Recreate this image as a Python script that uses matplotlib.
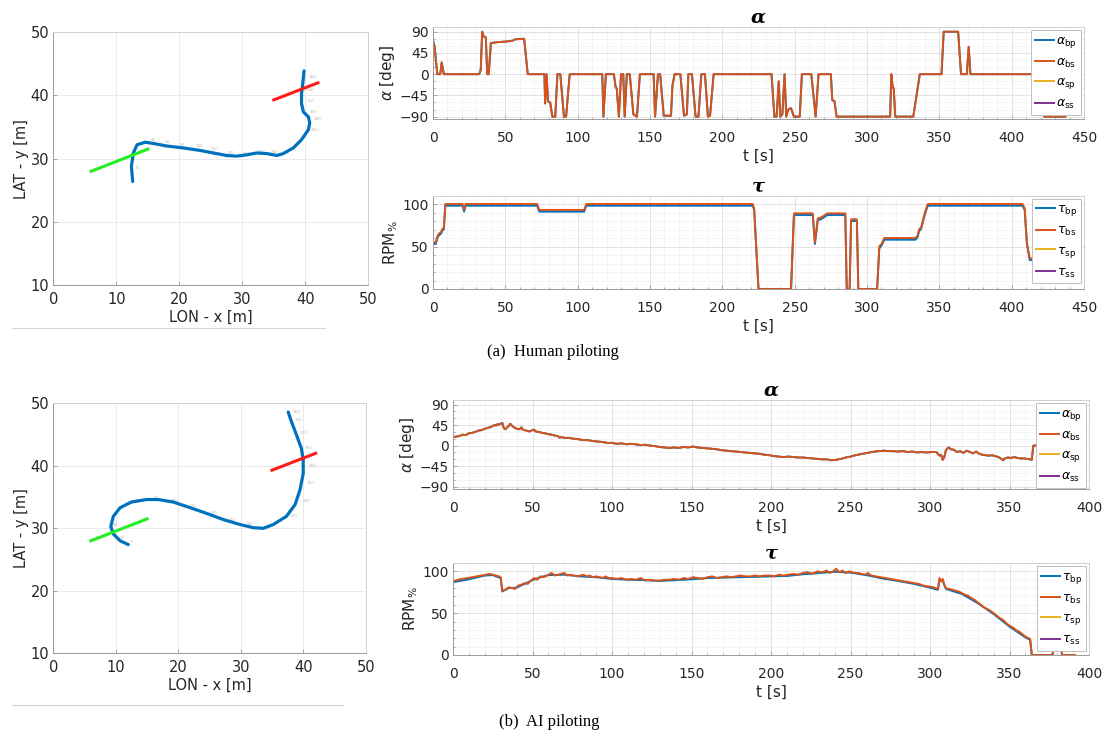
import matplotlib
matplotlib.use('Agg')
import matplotlib.pyplot as plt
from matplotlib.lines import Line2D
from matplotlib.ticker import MultipleLocator

W, H = 1106, 736

BLUE = '#0072BD'
ORANGE = '#D95319'
YELLOW = '#EDB120'
PURPLE = '#7E2F8E'

# gate lines (same in both runs)
start_x = [6, 15]
start_y = [28, 31.5]
goal_x = [35, 42]
goal_y = [39.3, 42]

# (a) human piloting - track
hum_x = [12.6, 12.4, 12.7, 13.3, 14.6, 15.9, 18.0, 20.6, 23.3, 25.4, 27.5, 29.1, 30.7,
         32.3, 33.9, 35.5, 36.5, 38.1, 39.4, 40.5, 40.7, 40.5, 39.7, 39.4, 39.4, 39.6, 39.8]
hum_y = [26.4, 28.8, 30.9, 32.2, 32.6, 32.4, 32.0, 31.7, 31.3, 30.9, 30.5, 30.4, 30.6,
         30.9, 30.8, 30.5, 30.8, 31.7, 33.0, 34.6, 35.7, 36.6, 37.4, 38.7, 40.3, 41.9, 43.9]
hum_mark_x = [13.0, 15.5, 17.7, 20.1, 22.6, 24.9, 27.5, 30.1, 32.3, 34.5, 36.3,
              40.9, 41.3, 40.7, 40.3, 40.3, 40.6]
hum_mark_y = [28.5, 33.0, 32.6, 32.2, 32.0, 31.5, 30.9, 30.8, 31.1, 31.0, 30.9,
              34.6, 36.2, 37.4, 39.1, 40.9, 43.0]
hum_marks = ['20', '40', '60', '80', '100', '120', '140', '160', '180', '200', '220',
             '260', '280', '300', '320', '340', '360']

# (b) AI piloting - track
ai_x = [12.0, 10.7, 9.6, 9.2, 9.6, 10.7, 12.5, 14.9, 16.8, 19.2, 21.9, 24.5, 27.2,
        29.9, 32.0, 33.6, 35.2, 37.3, 38.7, 39.5, 40.0, 40.0, 39.7, 38.9, 38.1, 37.6]
ai_y = [27.4, 28.0, 29.1, 30.3, 31.9, 33.3, 34.2, 34.6, 34.6, 34.2, 33.3, 32.4, 31.4,
        30.6, 30.1, 30.0, 30.6, 31.9, 33.8, 36.2, 38.8, 41.0, 42.8, 45.0, 47.1, 48.6]
ai_mark_x = [12.3, 10.7, 9.6, 13.1, 16.1, 18.8, 21.6, 25.0, 28.0, 31.0, 34.1, 37.8,
             39.9, 40.6, 40.8, 40.3, 39.4, 38.7, 38.3]
ai_mark_y = [27.8, 28.5, 30.5, 34.4, 34.8, 34.4, 33.5, 32.4, 31.3, 30.7, 30.4, 31.9,
             34.3, 37.3, 40.0, 42.8, 45.3, 47.3, 48.6]
ai_marks = ['0', '20', '40', '60', '80', '100', '120', '140', '160', '180', '200', '220',
            '240', '260', '280', '300', '320', '340', '360']

# (a) human piloting - thruster angle
hum_alpha_t = [0, 1, 3, 5, 6, 7.5, 32, 33, 34, 35, 36.5, 37.5, 38.5, 40, 45, 50, 55, 57, 63, 65.5,
               77, 77.5, 78.5, 79.5, 81, 82.5, 84.5, 86, 88, 90.5, 92, 94.5, 117, 117.8, 119.5,
               125, 126.3, 127, 128.5, 130, 131.5, 132.5, 134, 136, 138.5, 141, 143, 152.5, 153.5, 155.5,
               157, 159.5, 164.5, 165.5, 167, 171, 173.5, 175.5, 176.5, 179, 181.5, 183.5, 185.5, 188, 190, 191.5, 194,
               234, 236, 237.5, 239, 240, 241.5, 243, 244.2, 245.5, 247.5, 249.5, 253.5, 255, 261.5, 264.5, 266.5,
               275, 276, 277.5, 279, 316, 316.8, 317.8, 318.5, 319.5, 332, 336.5, 351.5, 353, 363, 365, 369, 370.3, 371.5,
               420.5, 422.5, 437]
hum_alpha_bs = [72, 60, 0, 0, 25, 0, 0, 10, 90, 80, 78, 0, 0, 66, 68, 69, 71, 74, 75, 0,
                0, -62, 0, -58, -60, -90, -90, 0, 0, -90, -90, 0, 0, -90, 0,
                0, -28, -30, -90, 0, 0, -90, 0, 0, -85, -90, 0, 0, -90, 0,
                0, -88, -88, -25, 0, 0, -88, -85, 0, 0, -90, -90, 0, 0, -90, -88, 0,
                0, -90, -90, -15, -90, -85, 0, -90, -75, -72, -90, -90, 0, 0, -90, 0,
                0, -55, -57, -90, -90, 0, -28, -30, -90, -90, 0, 0, 90, 90, 0, 0, 58, 0,
                0, -90, -90]
hum_alpha_bp = hum_alpha_bs  # both bow thrusters at the same angle

# (a) human piloting - thrust
hum_tau_t = [0.5, 2, 3, 4, 5.5, 6.5, 7.5, 8.5, 20.5, 21.5, 22.5, 72, 73.5, 104.5, 106, 221, 222, 225,
             247.5, 249.5, 262.5, 264, 266, 268, 270, 272.5, 285, 286, 288, 289, 293, 294, 307,
             308.5, 310, 312, 333.5, 335, 336, 337.5, 340, 342, 407.5, 409, 410.5, 412.5, 421]
hum_tau_bs = [55, 55, 62, 65, 67, 71, 72, 100, 100, 93, 100, 100, 93, 93, 100, 100, 95, 0,
              0, 89, 89, 55, 83, 84, 86, 89, 89, 0, 0, 82, 82, 0, 0,
              50, 53, 60, 60, 63, 70, 73, 90, 100, 100, 95, 55, 36, 36]
hum_tau_bp = [53, 53, 60, 63, 65, 69, 70, 98, 98, 91, 98, 98, 91, 91, 98, 98, 93, 0,
              0, 87, 87, 53, 81, 82, 84, 87, 87, 0, 0, 80, 80, 0, 0,
              48, 51, 58, 58, 61, 68, 71, 88, 98, 98, 93, 53, 34, 34]

# (b) AI piloting - thruster angle
ai_alpha_t = [0, 2, 4, 6, 8, 10, 12, 14, 16, 18, 20, 22, 24, 26, 27, 28, 29, 30, 31, 32,
              33, 34, 35, 36, 37, 38, 40, 42, 43, 44, 46, 48, 50, 51, 52, 54, 56, 58, 60, 62,
              64, 66, 67, 68, 70, 73, 76, 79, 82, 85, 88, 91, 94, 97, 100,
              103, 106, 109, 112, 115, 118, 121, 124, 127, 130, 133, 136, 139, 142, 145, 148, 151, 154, 157, 160,
              163, 166, 169, 172, 175, 178, 181, 184, 187, 190, 193, 196, 199, 202, 205, 208, 211, 214, 217, 220,
              223, 226, 229, 232, 235, 238, 241, 244, 247, 250, 253, 256, 259, 262, 265, 268, 271, 274, 277, 280,
              283, 286, 289, 292, 295, 298, 301, 304,
              306, 307, 308, 309, 310, 311, 312, 313, 315, 317, 319, 321, 323, 325, 327, 329, 331, 333, 335, 337,
              339, 341, 343, 345, 346, 347, 349, 351, 353, 355, 357, 359, 361, 363, 364, 365, 374]
ai_alpha_bs = [18, 20, 21, 24, 23, 27, 28, 30, 33, 34, 37, 39, 41, 45, 44, 47, 46, 48, 50, 38,
               36, 40, 43, 48, 44, 41, 37, 36, 40, 35, 33, 31, 34, 35, 31, 30, 28, 27, 25, 24,
               22, 21, 17, 19, 17, 17, 15, 14, 12, 12, 10, 9, 8, 6, 6,
               4, 5, 3, 4, 3, 1, 2, 0, -1, -3, -4, -5, -4, -5, -3, -4, -2, -4, -5, -6,
               -7, -8, -10, -11, -12, -13, -14, -15, -16, -17, -18, -20, -21, -23, -24, -25, -24, -25, -26, -26,
               -27, -28, -29, -30, -30, -32, -31, -29, -26, -24, -21, -19, -17, -15, -13, -12, -11, -12, -12, -13,
               -12, -14, -13, -15, -14, -15, -14, -14,
               -22, -20, -31, -25, -10, -6, -4, -8, -9, -14, -12, -16, -11, -14, -17, -13, -18, -20, -21, -22,
               -21, -23, -25, -29, -32, -28, -26, -27, -25, -27, -28, -28, -29, -30, -31, 0, 0]
ai_alpha_bp = ai_alpha_bs

# (b) AI piloting - thrust
ai_tau_t = [0, 3, 6, 9, 12, 15, 18, 21, 23, 25, 27, 29, 30, 31, 33, 35, 37, 39, 41, 43,
            45, 47, 49, 51, 53, 55, 57, 59, 61, 62, 64, 66, 68, 70, 72, 74, 76, 78, 80, 82,
            84, 86, 88, 90, 92, 94, 96, 98, 100, 103, 106, 109, 112, 115, 118, 121, 124, 127, 130, 133,
            136, 139, 142, 145, 148, 151, 154, 157, 160, 163, 166, 169, 172, 175, 178, 181, 184, 187, 190, 193,
            196, 199, 202, 205, 208, 211, 214, 217, 220, 223, 226, 229, 232, 235, 237, 239, 241, 243, 245, 247,
            249, 251, 253, 255, 257, 259, 261, 263, 266, 269, 272, 275, 278, 281, 284, 287, 290, 293, 296, 299,
            302, 305, 306, 307, 308, 309, 310, 312, 314, 316, 318, 320, 322, 324, 326, 328, 330, 332, 334, 336,
            338, 340, 342, 344, 346, 348, 350, 352, 354, 356, 358, 360, 362, 363, 364, 377, 379, 382, 383, 391]
ai_tau_bs = [88, 90, 91, 92, 93, 94, 95, 96, 97, 96, 95, 94, 93, 77, 78, 81, 80, 79, 83, 84,
             86, 85, 89, 92, 90, 94, 93, 95, 97, 98, 95, 96, 97, 98, 95, 96, 95, 94, 95, 96,
             94, 95, 93, 94, 93, 92, 94, 92, 92, 91, 92, 90, 91, 90, 92, 89, 90, 89, 89, 90,
             90, 91, 90, 92, 91, 93, 92, 91, 93, 94, 92, 93, 94, 93, 94, 95, 94, 94, 95, 94,
             95, 95, 94, 96, 95, 96, 97, 96, 98, 99, 97, 100, 99, 101, 98, 100, 103, 99, 101, 98,
             100, 99, 98, 98, 97, 96, 98, 95, 94, 93, 92, 91, 90, 89, 88, 87, 86, 85, 83, 82,
             81, 79, 92, 88, 91, 84, 80, 79, 78, 77, 76, 74, 72, 71, 68, 66, 63, 60, 57, 55,
             53, 50, 47, 44, 42, 38, 35, 33, 30, 28, 25, 22, 20, 19, 0, 0, 25, 25, 0, 0]
ai_tau_bp_t = [0, 10, 20, 25, 30, 31, 35, 40, 45, 50, 55, 60, 70, 80, 90, 100, 110, 120, 130, 140,
               150, 160, 170, 180, 190, 200, 210, 220, 230, 240, 250, 260, 270, 280, 290, 300, 305, 306, 308, 310,
               320, 330, 340, 350, 360, 363, 364, 377, 379, 382, 383, 391]
ai_tau_bp = [87, 90.5, 95, 95.5, 92, 76, 80, 80.5, 85, 89.5, 93, 95.5, 96, 94, 93, 91, 90, 89.5, 88.5, 89.5,
             90.5, 92, 92.5, 93, 93.5, 94, 94.5, 96.5, 98, 99.5, 98.5, 95.5, 91.5, 88.5, 85, 80.5, 78, 90.5, 88.5, 79,
             73, 62, 49, 34, 21, 18, 0, 0, 23.5, 23.5, 0, 0]

tick_ticks = [0, 10, 20, 30, 40, 50]
alpha_ticks = [-90, -45, 0, 45, 90]
tau_ticks = [0, 50, 100]


def main():
    plt.rcParams['font.family'] = 'DejaVu Sans'
    fig = plt.figure(figsize=(W / 100, H / 100), dpi=100)

    ax = fig.add_axes(pos(53.3, 32.3, 368.3, 285))
    crt_track(ax, hum_x, hum_y, hum_mark_x, hum_mark_y, hum_marks)
    ax = fig.add_axes(pos(53.3, 403.3, 365.7, 653.3))
    crt_track(ax, ai_x, ai_y, ai_mark_x, ai_mark_y, ai_marks)

    ax = fig.add_axes(pos(433, 27, 1084, 119))
    crt_alpha(ax, [(hum_alpha_t, hum_alpha_bp), (hum_alpha_t, hum_alpha_bs)], 450)
    ax = fig.add_axes(pos(433, 195.5, 1084, 289))
    crt_tau(ax, [(hum_tau_t, hum_tau_bp), (hum_tau_t, hum_tau_bs)], 450)

    ax = fig.add_axes(pos(453, 400, 1089, 489))
    crt_alpha(ax, [(ai_alpha_t, ai_alpha_bp), (ai_alpha_t, ai_alpha_bs)], 400)
    ax = fig.add_axes(pos(453, 563, 1089, 655))
    crt_tau(ax, [(ai_tau_bp_t, ai_tau_bp), (ai_tau_t, ai_tau_bs)], 400)

    fig.text(0.5, 1 - 352 / H, '(a)  Human piloting', family='Liberation Serif', size=12,
             ha='center', va='center')
    fig.text(0.497, 1 - 722 / H, '(b)  AI piloting', family='Liberation Serif', size=12,
             ha='center', va='center')
    for y, x1 in [(328, 325), (705, 343)]:
        fig.add_artist(Line2D([12 / W, x1 / W], [1 - y / H, 1 - y / H],
                              transform=fig.transFigure, color='#d4d4d4', lw=0.8))

    fig.savefig('out.png', dpi=100)


def pos(left, top, right, bottom):
    return [left / W, 1 - bottom / H, (right - left) / W, (bottom - top) / H]


def frame(ax):
    for side in ['left', 'bottom']:
        ax.spines[side].set_color('#9a9a9a')
    for side in ['top', 'right']:
        ax.spines[side].set_color('#d0d0d0')
    for s in ax.spines.values():
        s.set_linewidth(0.7)


def crt_track(ax, x, y, mx, my, marks):
    ax.plot(x, y, color=BLUE, lw=2.3, solid_capstyle='round', zorder=3)
    ax.plot(start_x, start_y, color='#22ee22', lw=2.2, zorder=4)
    ax.plot(goal_x, goal_y, color='#ff1a1a', lw=2.2, zorder=4)
    for xi, yi, s in zip(mx, my, marks):
        ax.text(xi, yi, s, fontsize=3, color='#bdbdbd', ha='left', va='center', zorder=2)
    ax.set_xlim(0, 50)
    ax.set_ylim(10, 50)
    ax.set_xticks(tick_ticks)
    ax.set_yticks(tick_ticks[1:])
    ax.grid(True, color='#e6e6e6', lw=0.6)
    ax.set_axisbelow(True)
    ax.tick_params(direction='in', length=3, width=0.6, color='#999999',
                   labelsize=10.5, labelcolor='#262626')
    ax.tick_params(axis='x', pad=5)
    ax.tick_params(axis='y', pad=3)
    ax.set_xlabel('LON - x [m]', fontsize=10.5, color='#262626', labelpad=2)
    ax.set_ylabel('LAT - y [m]', fontsize=10.5, color='#262626', labelpad=1)
    frame(ax)


def crt_series(ax, series, xmax, sym, title):
    colors = [BLUE, ORANGE]
    for (t, v), c in zip(series, colors):
        ax.plot(t, v, color=c, lw=1.4)
    # stern thrusters: no samples
    ax.plot([], [], color=YELLOW, lw=1.4)
    ax.plot([], [], color=PURPLE, lw=1.4)
    labels = [r'$\%s_{\rm %s}$' % (sym, k) for k in ['bp', 'bs', 'sp', 'ss']]
    leg = ax.legend(ax.get_lines(), labels, loc='upper right', fontsize=9,
                    handlelength=1.5, handletextpad=0.2, labelspacing=0.45,
                    borderpad=0.3, borderaxespad=0.25, fancybox=False, framealpha=1)
    leg.get_frame().set_edgecolor('#c0c0c0')
    leg.get_frame().set_linewidth(0.7)
    ax.set_xlim(0, xmax)
    ax.set_xticks(range(0, xmax + 1, 50))
    ax.xaxis.set_minor_locator(MultipleLocator(10))
    ax.grid(True, which='major', color='#dedede', lw=0.6)
    ax.grid(True, which='minor', color='#f0f0f0', lw=0.5)
    ax.set_axisbelow(True)
    ax.tick_params(which='both', direction='in', width=0.6, color='#999999',
                   labelsize=10, labelcolor='#262626')
    ax.tick_params(which='major', length=3)
    ax.tick_params(which='minor', length=1.5)
    ax.tick_params(axis='x', which='both', pad=8.5)
    ax.tick_params(axis='y', which='both', pad=3)
    ax.set_xlabel('t [s]', fontsize=11, color='#262626', labelpad=3)
    ax.set_title(title, fontsize=14, fontweight='bold', fontstyle='italic',
                 family='DejaVu Serif', pad=3)
    frame(ax)


def crt_alpha(ax, series, xmax):
    crt_series(ax, series, xmax, 'alpha', 'α')
    ax.set_ylim(-95, 100)
    ax.set_yticks(alpha_ticks)
    ax.yaxis.set_minor_locator(MultipleLocator(15))
    ax.set_ylabel(r'$\alpha$ [deg]', fontsize=11, color='#262626', labelpad=2)


def crt_tau(ax, series, xmax):
    crt_series(ax, series, xmax, 'tau', 'τ')
    ax.set_ylim(0, 110)
    ax.set_yticks(tau_ticks)
    ax.yaxis.set_minor_locator(MultipleLocator(10))
    ax.set_ylabel(r'RPM$_{\%}$', fontsize=11, color='#262626', labelpad=2)


if __name__ == "__main__":
    main()
